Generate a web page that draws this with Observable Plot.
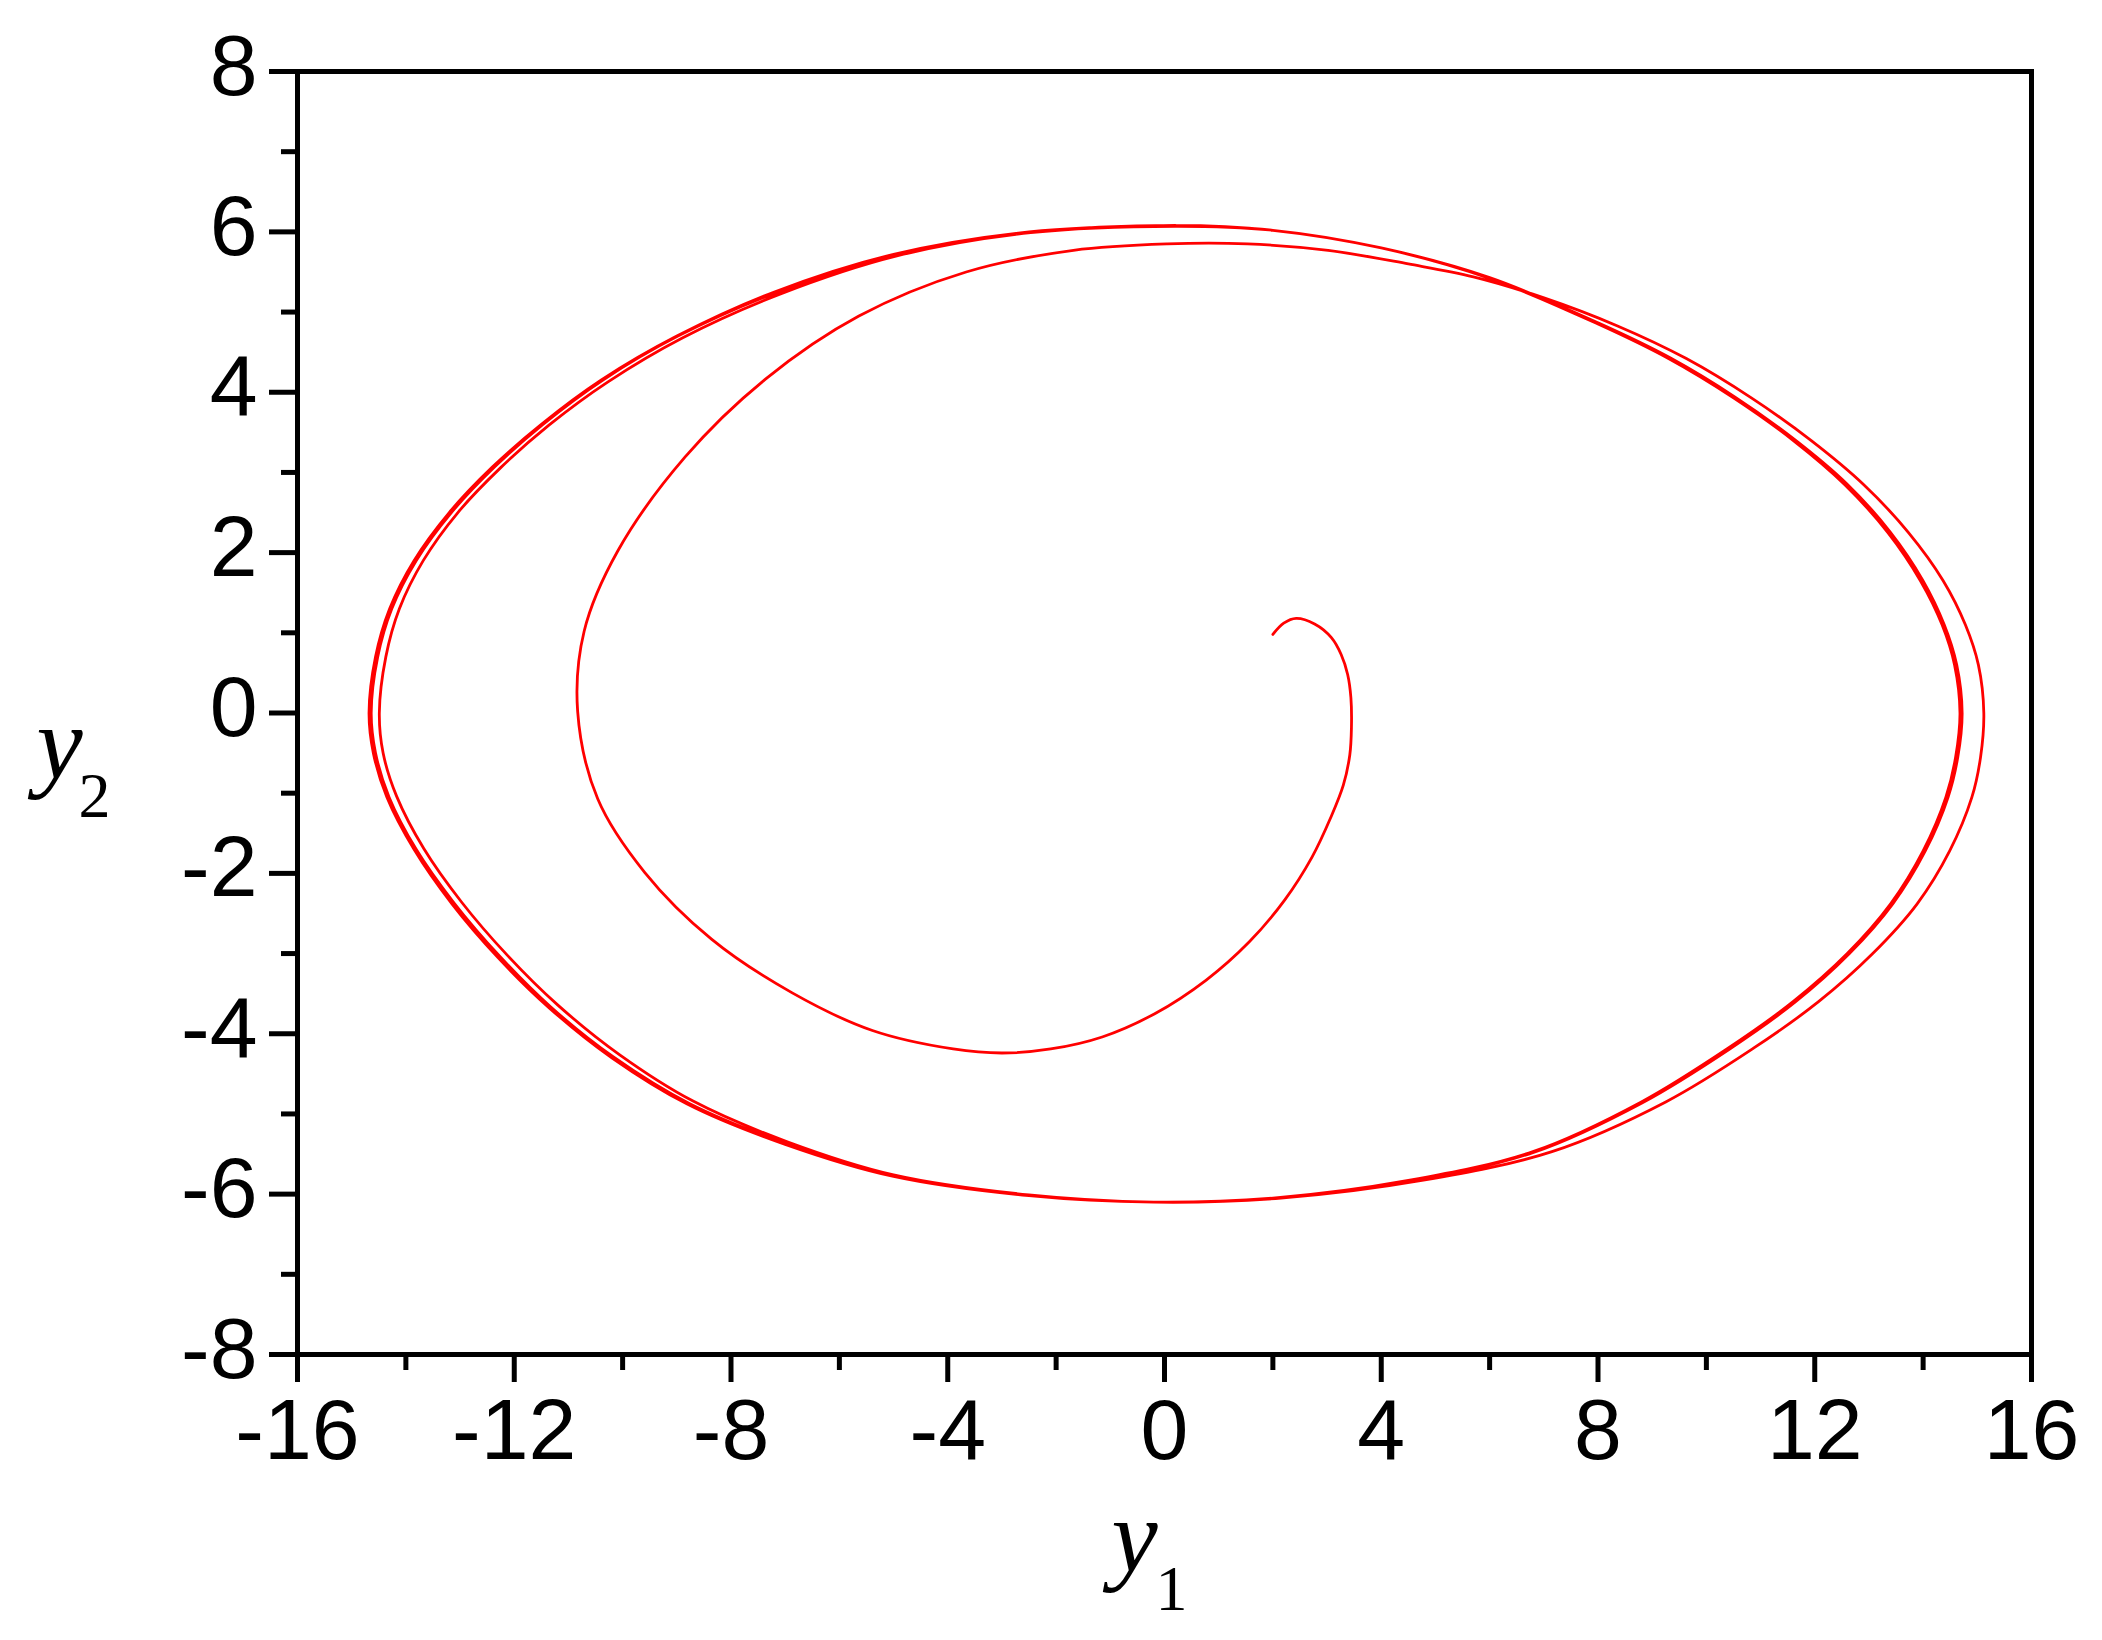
<!DOCTYPE html>
<html><head><meta charset="utf-8">
<script src="https://cdn.jsdelivr.net/npm/d3@7"></script>
<script src="https://cdn.jsdelivr.net/npm/@observablehq/plot@0.6"></script>
<style>html,body{margin:0;padding:0;background:#fff;}</style>
</head><body><div id="chart"></div>
<script>
// Tick values
const xMajor = [-16, -12, -8, -4, 0, 4, 8, 12, 16];
const xMinor = [-14, -10, -6, -2, 2, 6, 10, 14];
const yMajor = [-8, -6, -4, -2, 0, 2, 4, 6, 8];
const yMinor = [-7, -5, -3, -1, 1, 3, 5, 7];

// Trajectory: inner spiral
const spiralY1 = [2.00, 2.20, 2.43, 2.77, 3.08, 3.26, 3.38, 3.44, 3.45, 3.42, 3.30, 3.07, 2.72, 2.22, 1.57, 0.77, -0.18, -1.15, -2.10, -3.00, -3.90, -5.39, -6.87, -8.36, -9.59, -10.46, -10.83, -10.71, -10.09, -8.85, -7.37, -5.64, -3.66, -1.68, 0.05, 1.53, 3.02, 4.50];
const spiralY2 = [0.98, 1.12, 1.18, 1.11, 0.94, 0.73, 0.48, 0.19, -0.18, -0.52, -0.90, -1.30, -1.80, -2.33, -2.85, -3.33, -3.75, -4.04, -4.19, -4.24, -4.19, -3.96, -3.49, -2.82, -1.99, -1.07, 0.02, 1.02, 2.02, 3.19, 4.16, 4.95, 5.50, 5.77, 5.85, 5.85, 5.77, 5.60];

// first large lap (outermost on the right, inner on the left)
const lap1Y1 = [5.7, 6.99, 8.35, 9.63, 10.83, 11.93, 12.9, 13.73, 14.37, 14.78, 15.02, 15.12,
  15.06, 14.9, 14.49, 13.89, 13.07, 12.07, 10.87, 9.25, 7.15, 4.75, 2.15, -0.2,
  -2.5, -5.0, -6.95, -8.7, -10.06, -11.2, -12.13, -12.97, -13.67, -14.17, -14.42, -14.49,
  -14.37, -14.12, -13.68, -13.04, -12.25, -11.36, -10.27, -8.89, -7.11, -4.94, -2.47];
const lap1Y2 = [5.44, 5.18, 4.83, 4.42, 3.93, 3.4, 2.85, 2.25, 1.65, 1.1, 0.6, 0.0,
  -0.55, -1.05, -1.72, -2.38, -3.0, -3.6, -4.18, -4.85, -5.47, -5.83, -6.05, -6.10,
  -6.01, -5.76, -5.35, -4.84, -4.26, -3.64, -3.02, -2.36, -1.69, -1.04, -0.5, 0.0,
  0.7, 1.3, 1.9, 2.5, 3.06, 3.59, 4.13, 4.68, 5.22, 5.7, 5.99];

// second lap
const lap2Y1 = [0.2, 2.0, 4.0, 6.0, 8.02, 9.33, 10.53, 11.63, 12.59, 13.39, 13.99, 14.39, 14.62, 14.72,
  14.64, 14.46, 14.04, 13.44, 12.64, 11.63, 10.43, 8.82, 6.81, 4.5, 2.0, -0.2,
  -2.5, -5.0, -6.98, -8.77, -10.17, -11.32, -12.26, -13.11, -13.81, -14.31, -14.56, -14.64,
  -14.52, -14.26, -13.81, -13.16, -12.36, -11.47, -10.37, -8.98, -7.18, -4.99, -2.5];
const lap2Y2 = [6.07, 6.02, 5.8, 5.43, 4.86, 4.43, 3.94, 3.41, 2.86, 2.26, 1.66, 1.1, 0.6, 0.0,
  -0.55, -1.05, -1.72, -2.38, -3.0, -3.61, -4.19, -4.86, -5.48, -5.84, -6.05, -6.10,
  -6.02, -5.77, -5.37, -4.87, -4.29, -3.67, -3.04, -2.37, -1.7, -1.05, -0.5, 0.0,
  0.7, 1.3, 1.9, 2.5, 3.07, 3.6, 4.15, 4.7, 5.24, 5.71, 5.99];

// third lap (on the limit cycle)
const lap3Y1 = [0.2, 2.0, 4.0, 6.0, 8.0, 9.3, 10.5, 11.6, 12.55, 13.35, 13.95, 14.35, 14.58, 14.68,
  14.60, 14.42, 14.0, 13.4, 12.6, 11.6, 10.4, 8.8, 6.8, 4.5, 2.0, -0.2,
  -2.5, -5.0, -7.0, -8.8, -10.2, -11.35, -12.3, -13.15, -13.85, -14.35, -14.6, -14.68,
  -14.56, -14.3, -13.85, -13.2, -12.4, -11.5, -10.4, -9.0, -7.2, -5.0, -2.5, 0.2];
const lap3Y2 = [6.08, 6.02, 5.8, 5.42, 4.85, 4.42, 3.93, 3.4, 2.85, 2.25, 1.65, 1.1, 0.6, 0.0,
  -0.55, -1.05, -1.72, -2.38, -3.0, -3.6, -4.18, -4.85, -5.47, -5.83, -6.05, -6.10,
  -6.02, -5.78, -5.38, -4.88, -4.3, -3.68, -3.05, -2.38, -1.7, -1.05, -0.5, 0.0,
  0.7, 1.3, 1.9, 2.5, 3.07, 3.6, 4.15, 4.7, 5.25, 5.72, 6.0, 6.08];

const segments = [[spiralY1, spiralY2], [lap1Y1, lap1Y2], [lap2Y1, lap2Y2], [lap3Y1, lap3Y2]];
const path = segments.flatMap(([a, b]) => a.map((v, i) => ({y1: v, y2: b[i]})));

const ML = 297, MT = 71;
const sans = "Liberation Sans, Arial, sans-serif";
const serif = "Liberation Serif, Times New Roman, serif";

const chart = Plot.plot({
  width: 2102, height: 1640,
  marginLeft: ML, marginRight: 71, marginTop: MT, marginBottom: 286,
  x: {domain: [-16, 16], axis: null, label: null},
  y: {domain: [-8, 8], axis: null, label: null},
  style: {background: "white", overflow: "visible"},
  marks: [
    Plot.line(path, {x: "y1", y: "y2", stroke: "#ff0000", strokeWidth: 2.8, curve: "catmull-rom"}),
    Plot.frame({stroke: "black", strokeWidth: 5}),
    Plot.axisX(xMajor, {anchor: "bottom", tickSize: 28, strokeWidth: 5, stroke: "black", tickFormat: () => "", label: null}),
    Plot.axisX(xMinor, {anchor: "bottom", tickSize: 16, strokeWidth: 5, stroke: "black", tickFormat: () => "", label: null}),
    Plot.axisY(yMajor, {anchor: "left", tickSize: 28, strokeWidth: 5, stroke: "black", tickFormat: () => "", label: null}),
    Plot.axisY(yMinor, {anchor: "left", tickSize: 16, strokeWidth: 5, stroke: "black", tickFormat: () => "", label: null}),
    Plot.text(xMajor, {x: d => d, text: d => String(d), frameAnchor: "bottom", dy: 104, lineAnchor: "bottom", textAnchor: "middle", fontSize: 86, fontFamily: sans, fill: "black"}),
    Plot.text(yMajor, {y: d => d, text: d => String(d), frameAnchor: "left", dx: -40, dy: 23, lineAnchor: "bottom", textAnchor: "end", fontSize: 86, fontFamily: sans, fill: "black"}),
    Plot.text(["y"], {text: d => d, frameAnchor: "top-left", dx: 1111 - ML, dy: 1570 - MT, lineAnchor: "bottom", textAnchor: "start", fontSize: 104, fontStyle: "italic", fontFamily: serif, fill: "black"}),
    Plot.text(["1"], {text: d => d, frameAnchor: "top-left", dx: 1155 - ML, dy: 1609 - MT, lineAnchor: "bottom", textAnchor: "start", fontSize: 64, fontFamily: serif, fill: "black"}),
    Plot.text(["y"], {text: d => d, frameAnchor: "top-left", dx: 36 - ML, dy: 777 - MT, lineAnchor: "bottom", textAnchor: "start", fontSize: 104, fontStyle: "italic", fontFamily: serif, fill: "black"}),
    Plot.text(["2"], {text: d => d, frameAnchor: "top-left", dx: 78 - ML, dy: 816 - MT, lineAnchor: "bottom", textAnchor: "start", fontSize: 64, fontFamily: serif, fill: "black"})
  ]
});
document.getElementById("chart").appendChild(chart);
</script>
</body></html>
